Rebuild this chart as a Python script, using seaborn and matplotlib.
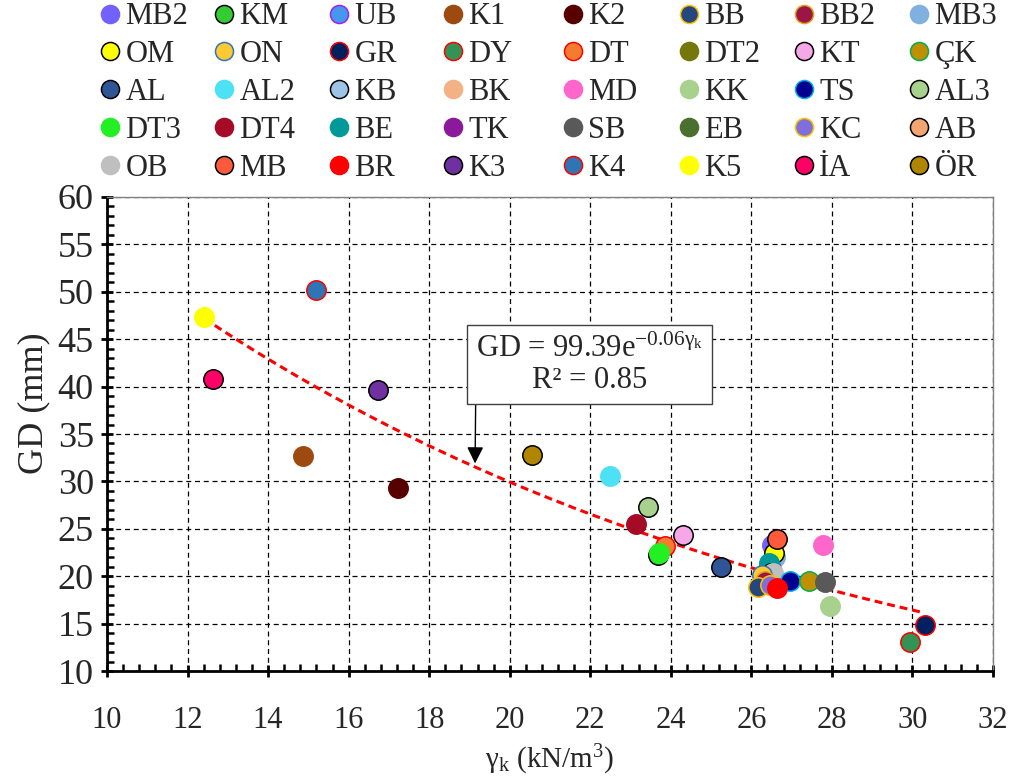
import numpy as np
import pandas as pd
import matplotlib
matplotlib.use("Agg")
import matplotlib.pyplot as plt
from matplotlib.lines import Line2D
from matplotlib.ticker import MultipleLocator
import seaborn as sns

# Sample codes, in legend order (row by row)
codes = ["MB2", "KM", "UB", "K1", "K2", "BB", "BB2", "MB3",
         "OM", "ON", "GR", "DY", "DT", "DT2", "KT", "ÇK",
         "AL", "AL2", "KB", "BK", "MD", "KK", "TS", "AL3",
         "DT3", "DT4", "BE", "TK", "SB", "EB", "KC", "AB",
         "OB", "MB", "BR", "K3", "K4", "K5", "İA", "ÖR"]

# Unit weight gamma_k (kN/m3)
gamma_k = [26.51, 23.68, 26.40, 14.87, 17.23, 26.17, 26.35, 26.58,
           26.56, 26.27, 30.30, 29.95, 23.86, 26.45, 24.30, 27.43,
           25.25, 22.50, 26.50, 26.45, 27.78, 27.95, 26.96, 23.43,
           23.71, 23.14, 26.44, 26.50, 27.83, 26.40, 26.46, 26.55,
           26.54, 26.64, 26.64, 16.73, 15.19, 12.41, 12.63, 20.55]

# GD (mm)
gd = [23.3, 22.2, 20.0, 32.7, 29.3, 18.9, 19.5, 22.0,
      22.4, 20.1, 14.9, 13.1, 23.2, 20.5, 24.3, 19.5,
      21.0, 30.6, 20.3, 19.8, 23.3, 16.9, 19.5, 27.3,
      22.4, 25.5, 21.4, 20.8, 19.4, 20.6, 19.1, 19.9,
      20.3, 23.9, 18.8, 39.6, 50.2, 47.3, 40.8, 32.8]

face_colors = ["#7360FF", "#33CC33", "#4499EE", "#9C4A10", "#560000", "#26467E", "#9B1546", "#7FB0E0",
               "#FFFF00", "#FFC933", "#002060", "#339355", "#F47C30", "#76770A", "#F5A7E8", "#C09000",
               "#2F5597", "#4DE1F5", "#9DC3E6", "#F4B183", "#FF66CC", "#A9D18E", "#000090", "#A9D18E",
               "#22F022", "#A50B25", "#009999", "#8B1A9B", "#595959", "#4A7030", "#7F6FDD", "#F4A470",
               "#BFBFBF", "#FF5A3C", "#FF0000", "#7030A0", "#2E75B6", "#FFFF00", "#FF0066", "#B08500"]

edge_colors = [None, "#000000", "#A020F0", None, None, "#FFC000", "#E0A020", None,
               "#000000", "#2E75B6", "#FF0000", "#FF0000", "#FF0000", None, "#000000", "#00B050",
               "#000000", None, "#000000", None, None, None, "#00B0F0", "#000000",
               None, None, None, None, None, None, "#FFC000", "#000000",
               None, "#000000", None, "#000000", "#FF0000", None, "#000000", "#000000"]

# Drawing order (later ones on top) so the cluster overlaps correctly
draw_order = ["K5", "İA", "K4", "K1", "K3", "K2", "ÖR", "AL2", "AL3", "DT4", "KT",
              "KM", "DT", "DT3", "AL", "MB2", "MB3", "OM", "MB", "MD", "KK", "DY", "GR",
              "DT2", "EB", "TK", "UB", "BE", "BK", "KB", "AB", "OB", "ON", "BB2",
              "BB", "KC", "TS", "ÇK", "SB", "BR"]

# Exponential fit GD = a * exp(b * gamma_k)
fit_a, fit_b = 99.39, -0.06

df = pd.DataFrame({"code": codes, "gamma_k": gamma_k, "GD": gd,
                   "face": face_colors, "edge": edge_colors})

sns.set_theme(style="white")
plt.rcParams["font.family"] = ["Liberation Serif", "DejaVu Serif"]
plt.rcParams["mathtext.fontset"] = "custom"
plt.rcParams["mathtext.rm"] = "Liberation Serif"
plt.rcParams["mathtext.it"] = "Liberation Serif:italic"

fig = plt.figure(figsize=(10.22, 7.78), dpi=100)
ax = fig.add_axes([0.1047, 0.1375, 0.8669, 0.6093])

# Trend line
xs = np.linspace(min(gamma_k), max(gamma_k), 200)
sns.lineplot(x=xs, y=fit_a * np.exp(fit_b * xs), ax=ax, color="#FF0000",
             linewidth=2.2, linestyle=(0, (2.6, 1.6)), zorder=3)

# Markers
for z, name in enumerate(draw_order):
    row = df[df["code"] == name].iloc[0]
    ec = row["edge"] if row["edge"] is not None else row["face"]
    sns.scatterplot(x=[row["gamma_k"]], y=[row["GD"]], ax=ax, s=195,
                    color=row["face"], edgecolor=ec, linewidth=1.1,
                    zorder=4 + z * 0.01, legend=False)

ax.set_xlim(10, 32)
ax.set_ylim(10, 60)
ax.xaxis.set_major_locator(MultipleLocator(2))
ax.xaxis.set_minor_locator(MultipleLocator(0.4))
ax.yaxis.set_major_locator(MultipleLocator(5))
ax.yaxis.set_minor_locator(MultipleLocator(1))

ax.grid(True, which="major", color="black", linestyle=(0, (4, 3)), linewidth=0.9)
ax.set_axisbelow(True)

for side in ["left", "bottom"]:
    ax.spines[side].set_color("black")
    ax.spines[side].set_linewidth(2.0)
for side in ["top", "right"]:
    ax.spines[side].set_color("#808080")
    ax.spines[side].set_linewidth(1.0)

ax.tick_params(axis="both", which="major", direction="inout", length=9, width=2.0,
               color="black", bottom=True, left=True)
ax.tick_params(axis="both", which="minor", direction="in", length=5, width=1.8,
               color="black", bottom=True, left=True)
ax.tick_params(axis="y", which="major", labelsize=26, pad=5)
ax.tick_params(axis="x", which="major", labelsize=22, pad=21)

ax.set_xlabel(r"$\mathregular{γ_k}$ (kN/m$^{\mathregular{3}}$)", fontsize=21, labelpad=5)
ax.set_ylabel("GD (mm)", fontsize=26)
ax.yaxis.set_label_coords(-0.064, 0.565)

# Equation box with arrow to the trend line
ax.annotate(r"GD = 99.39e$^{\mathregular{-0.06γ_k}}$" + "\n" + "R² = 0.85",
            xy=(19.14, 31.9), xytext=(21.98, 42.3),
            fontsize=22, ha="center", va="center", linespacing=1.1,
            bbox=dict(boxstyle="square,pad=0.3", fc="white", ec="#404040", lw=1.0),
            arrowprops=dict(arrowstyle="-|>", color="black", lw=1.0,
                            mutation_scale=25, shrinkA=0, shrinkB=0,
                            relpos=(0.0, 0.0)),
            zorder=10)

# Legend: 8 columns x 5 rows, evenly spaced slots
ncol, nrow = 8, 5
col_x = [0.0897, 0.2013, 0.3138, 0.4253, 0.5428, 0.6563, 0.7688, 0.8813]
for c in range(ncol):
    handles = []
    for r in range(nrow):
        i = r * ncol + c
        ec = edge_colors[i] if edge_colors[i] is not None else face_colors[i]
        handles.append(Line2D([], [], linestyle="none", marker="o", markersize=13,
                              markerfacecolor=face_colors[i], markeredgecolor=ec,
                              markeredgewidth=1.1, label=codes[i]))
    fig.legend(handles=handles, loc="upper left", bbox_to_anchor=(col_x[c], 1.005),
               frameon=False, fontsize=22, handlelength=0.8, handletextpad=0.1,
               labelspacing=0.29, borderaxespad=0.0, borderpad=0.2)

fig.savefig("out.png", dpi=100)
